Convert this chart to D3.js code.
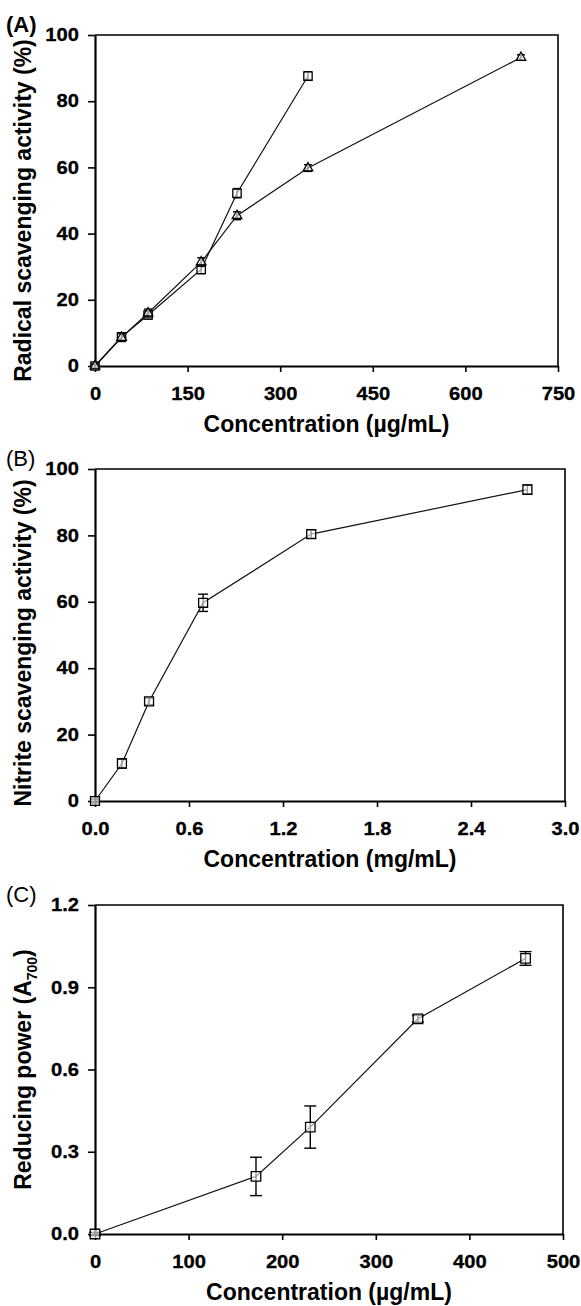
<!DOCTYPE html>
<html>
<head>
<meta charset="utf-8">
<script src="https://cdn.jsdelivr.net/npm/d3@7"></script>
<style>
  body { margin: 0; background: #fff; }
  svg { display: block; font-family: "Liberation Sans", Arial, sans-serif; }
</style>
</head>
<body>
<svg id="svg"></svg>
<script>
// (A) radical scavenging
var aConcSquare = [0, 43, 86, 172, 230, 345];
var aSquare = [0, 8.8, 15.4, 29.2, 52.2, 87.6];
var aSquareErr = [0.8, 1.2, 1.2, 1.3, 1.4, 1.3];
var aConcTri = [0, 43, 86, 172, 230, 345, 690];
var aTri = [0, 8.6, 16, 31.4, 45.4, 59.8, 93.2];
var aTriErr = [0.6, 1.2, 1.2, 1.3, 1.2, 1.0, 0.8];
var aXTicks = [0, 150, 300, 450, 600, 750];
var aYTicks = [0, 20, 40, 60, 80, 100];

// (B) nitrite scavenging
var bConc = [0, 0.172, 0.345, 0.69, 1.38, 2.76];
var bNitrite = [0, 11.3, 30, 59.7, 80.4, 93.8];
var bErr = [0.6, 1.4, 1.0, 2.6, 1.2, 1.4];
var bXTicks = [0, 0.6, 1.2, 1.8, 2.4, 3.0];
var bYTicks = [0, 20, 40, 60, 80, 100];

// (C) reducing power
var cConc = [0, 172, 230, 345, 460];
var cPower = [0, 0.21, 0.39, 0.785, 1.005];
var cErr = [0.006, 0.07, 0.077, 0.012, 0.025];
var cXTicks = [0, 100, 200, 300, 400, 500];
var cYTicks = [0, 0.3, 0.6, 0.9, 1.2];

var svg = d3.select("#svg").attr("width", 581).attr("height", 1306);

var tickFont = 18, titleFont = 23;
var stretch = 1.12;   // tick labels in the figure are drawn wide

function zip(xs, ys, es) {
    return xs.map(function(v, i) { return {x: v, y: ys[i], e: es[i]}; });
}

function styleTicks(a) {
    a.select(".domain").attr("stroke-width", 2.2);
    a.selectAll(".tick line").attr("stroke-width", 1.6);
    a.selectAll(".tick text")
        .attr("fill", "#000")
        .attr("stroke", "#000").attr("stroke-width", 0.3)
        .attr("font-size", tickFont)
        .attr("font-weight", "bold")
        .attr("font-family", "Liberation Sans, Arial, sans-serif");
}

function drawPanel(p) {
    var x = d3.scaleLinear().domain(p.xDomain).range([p.left, p.right]);
    var y = d3.scaleLinear().domain(p.yDomain).range([p.bottom, p.top]);
    var g = svg.append("g");

    // frame on top and right
    g.append("path")
        .attr("d", "M" + p.left + "," + p.top + "H" + p.right + "V" + p.bottom)
        .attr("fill", "none").attr("stroke", "#000").attr("stroke-width", 1.6);

    var xa = g.append("g")
        .attr("transform", "translate(0," + p.bottom + ")")
        .call(d3.axisBottom(x).tickValues(p.xTicks).tickFormat(p.xFormat)
            .tickSize(6).tickSizeOuter(0).tickPadding(15));
    var ya = g.append("g")
        .attr("transform", "translate(" + p.left + ",0)")
        .call(d3.axisLeft(y).tickValues(p.yTicks).tickFormat(p.yFormat)
            .tickSize(7).tickSizeOuter(0).tickPadding(9));

    styleTicks(xa);
    styleTicks(ya);
    xa.selectAll(".tick text").attr("transform", "scale(" + stretch + ",1)");
    ya.selectAll(".tick text")
        .attr("x", -16 / stretch)
        .attr("transform", "scale(" + stretch + ",1)");

    p.series.forEach(function(s) {
        var line = d3.line().x(function(d) { return x(d.x); }).y(function(d) { return y(d.y); });
        g.append("path").datum(s.data)
            .attr("d", line)
            .attr("fill", "none").attr("stroke", "#111").attr("stroke-width", 1.2);

        var eb = g.selectAll(null).data(s.data).enter().append("g");
        eb.append("line")
            .attr("x1", function(d) { return x(d.x); })
            .attr("x2", function(d) { return x(d.x); })
            .attr("y1", function(d) { return y(d.y - d.e); })
            .attr("y2", function(d) { return y(d.y + d.e); })
            .attr("stroke", "#000").attr("stroke-width", 1.4);
        [-1, 1].forEach(function(sign) {
            eb.append("line")
                .attr("x1", function(d) { return x(d.x) - s.cap; })
                .attr("x2", function(d) { return x(d.x) + s.cap; })
                .attr("y1", function(d) { return y(d.y + sign * d.e); })
                .attr("y2", function(d) { return y(d.y + sign * d.e); })
                .attr("stroke", "#000").attr("stroke-width", 1.4);
        });

        g.selectAll(null).data(s.data).enter().append("path")
            .attr("transform", function(d) { return "translate(" + x(d.x) + "," + y(d.y) + ")"; })
            .attr("d", d3.symbol().type(s.symbol).size(s.size))
            .attr("fill", "#fff").attr("fill-opacity", 0.6)
            .attr("stroke", "#000").attr("stroke-width", 1.3);
    });

    // axis titles
    g.append("text")
        .attr("x", (p.left + p.right) / 2)
        .attr("y", p.bottom + 66)
        .attr("text-anchor", "middle")
        .attr("font-size", titleFont).attr("font-weight", "bold")
        .text(p.xTitle);

    var yt = g.append("text")
        .attr("transform", "translate(31," + ((p.top + p.bottom) / 2 + p.yTitleShift) + ") rotate(-90)")
        .attr("text-anchor", "middle")
        .attr("font-size", titleFont).attr("font-weight", "bold");
    yt.append("tspan").text(p.yTitle);
    if (p.yTitleSub) {
        yt.append("tspan").attr("font-size", 14).attr("dy", 6).text(p.yTitleSub);
        yt.append("tspan").attr("dy", -6).text(")");
    }

    g.append("text")
        .attr("x", 6).attr("y", p.top - 3)
        .attr("font-size", 22)
        .attr("font-weight", p.labelBold ? "bold" : "normal")
        .text(p.label);
}

drawPanel({
    label: "(A)", labelBold: true,
    left: 95, right: 558, top: 35, bottom: 366,
    xDomain: [0, 750], yDomain: [0, 100],
    xTicks: aXTicks, yTicks: aYTicks,
    xFormat: d3.format("d"), yFormat: d3.format("d"),
    xTitle: "Concentration (\u00b5g/mL)",
    yTitle: "Radical scavenging activity (%)", yTitleShift: 10,
    series: [
        {data: zip(aConcSquare, aSquare, aSquareErr), symbol: d3.symbolSquare, size: 70, cap: 4},
        {data: zip(aConcTri, aTri, aTriErr), symbol: d3.symbolTriangle, size: 40, cap: 4}
    ]
});

drawPanel({
    label: "(B)",
    left: 95, right: 565, top: 469, bottom: 801,
    xDomain: [0, 3], yDomain: [0, 100],
    xTicks: bXTicks, yTicks: bYTicks,
    xFormat: d3.format(".1f"), yFormat: d3.format("d"),
    xTitle: "Concentration (mg/mL)",
    yTitle: "Nitrite scavenging activity (%)", yTitleShift: 8,
    series: [
        {data: zip(bConc, bNitrite, bErr), symbol: d3.symbolSquare, size: 80, cap: 5}
    ]
});

drawPanel({
    label: "(C)",
    left: 95, right: 563, top: 905, bottom: 1234,
    xDomain: [0, 500], yDomain: [0, 1.2],
    xTicks: cXTicks, yTicks: cYTicks,
    xFormat: d3.format("d"), yFormat: d3.format(".1f"),
    xTitle: "Concentration (\u00b5g/mL)",
    yTitle: "Reducing power (A",
    yTitleSub: "700", yTitleShift: 0,
    series: [
        {data: zip(cConc, cPower, cErr), symbol: d3.symbolSquare, size: 90, cap: 6}
    ]
});
</script>
</body>
</html>
